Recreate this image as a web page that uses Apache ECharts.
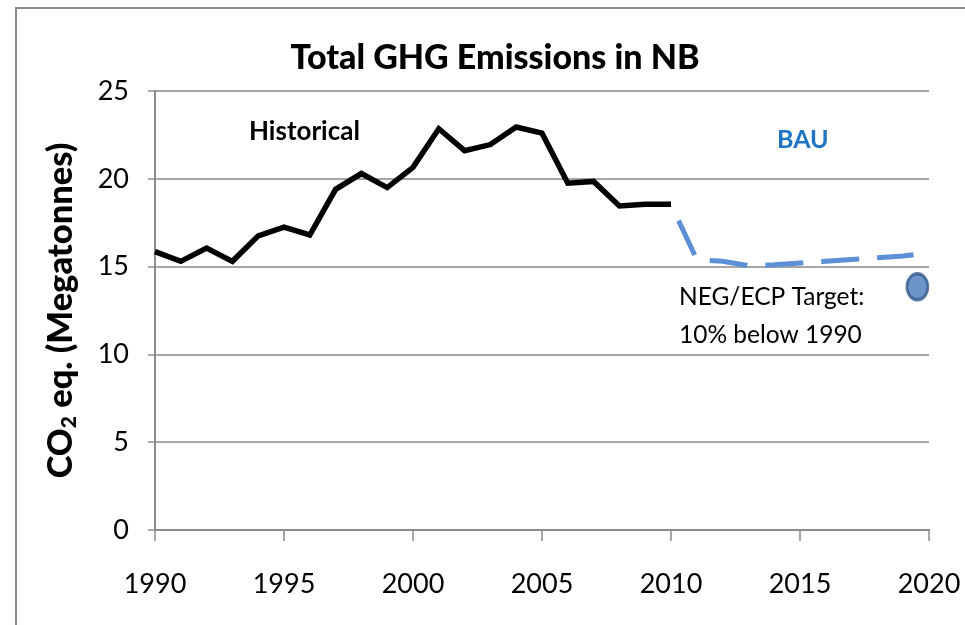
<!DOCTYPE html>
<html>
<head>
<meta charset="utf-8">
<script src="https://cdn.jsdelivr.net/npm/echarts@6/dist/echarts.min.js"></script>
<style>
  html, body { margin: 0; padding: 0; background: #fff; }
  #chart { width: 965px; height: 625px; }
</style>
</head>
<body>
<div id="chart"></div>
<script>
// historical emissions, Mt CO2 eq.
const histYears = [1990, 1991, 1992, 1993, 1994, 1995, 1996, 1997, 1998, 1999, 2000,
  2001, 2002, 2003, 2004, 2005, 2006, 2007, 2008, 2009, 2010];
const histValues = [15.85, 15.3, 16.05, 15.3, 16.75, 17.25, 16.8, 19.4, 20.3, 19.5, 20.65,
  22.85, 21.6, 21.95, 22.95, 22.6, 19.75, 19.85, 18.45, 18.55, 18.55];

// business as usual projection
const bauYears = [2010, 2011, 2012, 2013, 2014, 2015, 2016, 2017, 2018, 2019, 2019.4];
const bauValues = [18.55, 15.4, 15.3, 15.05, 15.1, 15.2, 15.3, 15.4, 15.5, 15.6, 15.68];

// NEG/ECP target point
const targetYear = [2019.55];
const targetValue = [13.85];

const yTicks = [0, 5, 10, 15, 20, 25];
const xTicks = [1990, 1995, 2000, 2005, 2010, 2015, 2020];

const font = 'Lato, "Open Sans", sans-serif';

const chart = echarts.init(document.getElementById('chart'));
chart.setOption({
  animation: false,
  grid: { left: 155, right: 36, top: 91, bottom: 95, containLabel: false },
  xAxis: {
    type: 'value',
    min: xTicks[0],
    max: xTicks[xTicks.length - 1],
    interval: 5,
    axisLine: { show: true, lineStyle: { color: '#8c8c8c', width: 2 } },
    axisTick: { show: true, length: 11, lineStyle: { color: '#8c8c8c', width: 1.5 } },
    axisLabel: { margin: 41, fontFamily: font, fontSize: 27, color: '#000', verticalAlign: 'top',
      formatter: v => String(v) },
    splitLine: { show: false }
  },
  yAxis: {
    type: 'value',
    min: yTicks[0],
    max: yTicks[yTicks.length - 1],
    interval: 5,
    name: '{b|CO}{s|2}{b| eq. (Megatonnes)}',
    nameLocation: 'middle',
    nameGap: 75,
    nameRotate: 90,
    nameTextStyle: {
      rich: {
        b: { fontFamily: font, fontWeight: 900, fontSize: 34.5, color: '#000' },
        s: { fontFamily: font, fontWeight: 900, fontSize: 21, color: '#000', verticalAlign: 'bottom', padding: [17, 0, 0, 0] }
      }
    },
    axisLine: { show: true, lineStyle: { color: '#8c8c8c', width: 2 } },
    axisTick: { show: true, length: 7, lineStyle: { color: '#8c8c8c', width: 1.5 } },
    axisLabel: { margin: 26, fontFamily: font, fontSize: 27, color: '#000' },
    splitLine: { show: true, lineStyle: { color: '#a6a6a6', width: 2 } }
  },
  graphic: [
    { type: 'rect', shape: { x: 16, y: 8, width: 1000, height: 700 }, style: { fill: 'none', stroke: '#8a8a8a', lineWidth: 2 }, silent: true },
    { type: 'text', x: 495, y: 58, style: { text: 'Total GHG Emissions in NB', font: '900 34px ' + font, fill: '#000', textAlign: 'center', textVerticalAlign: 'middle' } },
    { type: 'text', x: 249, y: 132, style: { text: 'Historical', font: 'bold 26px ' + font, fill: '#000', textAlign: 'left', textVerticalAlign: 'middle' } },
    { type: 'text', x: 777, y: 140, style: { text: 'BAU', font: 'bold 25px ' + font, fill: '#1f74c4', textAlign: 'left', textVerticalAlign: 'middle' } },
    { type: 'text', x: 679, y: 297, style: { text: 'NEG/ECP Target:', font: '24.5px ' + font, fill: '#000', textAlign: 'left', textVerticalAlign: 'middle' } },
    { type: 'text', x: 679, y: 335, style: { text: '10% below 1990', font: '24.5px ' + font, fill: '#000', textAlign: 'left', textVerticalAlign: 'middle' } }
  ],
  series: [
    {
      name: 'BAU',
      type: 'line',
      data: bauYears.map((y, i) => [y, bauValues[i]]),
      showSymbol: false,
      lineStyle: { color: '#5b8fd6', width: 5, type: [38, 18], dashOffset: 38, cap: 'butt' },
      z: 2
    },
    {
      name: 'Historical',
      type: 'line',
      data: histYears.map((y, i) => [y, histValues[i]]),
      showSymbol: false,
      lineStyle: { color: '#000', width: 5.5, join: 'miter' },
      z: 3
    },
    {
      name: 'Target',
      type: 'scatter',
      data: targetYear.map((y, i) => [y, targetValue[i]]),
      symbol: 'circle',
      symbolSize: [21, 26],
      itemStyle: { color: '#4a7bbb', borderColor: '#365a8c', borderWidth: 3 },
      z: 4
    }
  ]
});
</script>
</body>
</html>
